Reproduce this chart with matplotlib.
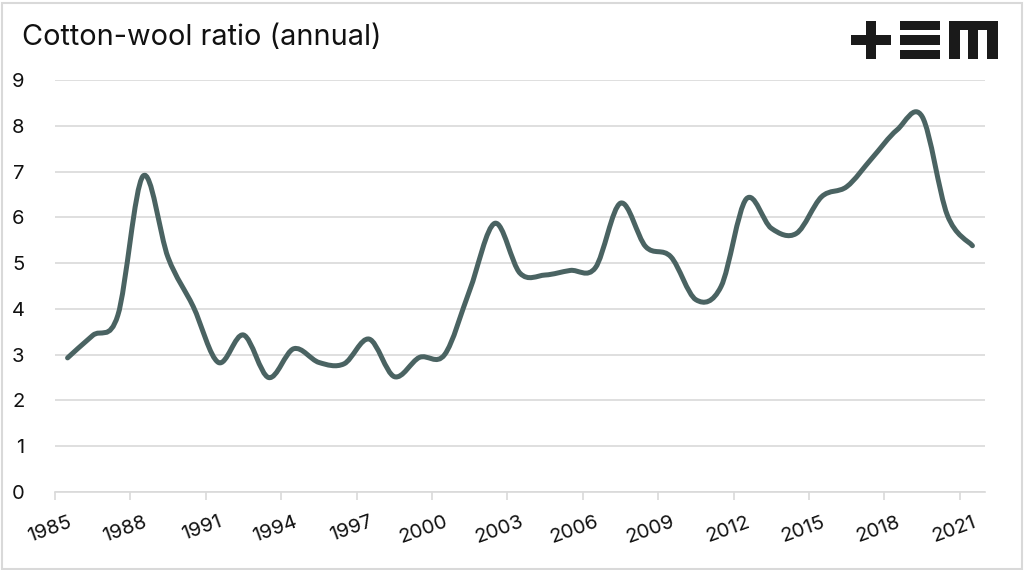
import matplotlib
matplotlib.use("Agg")
import matplotlib.pyplot as plt
from matplotlib.path import Path
from matplotlib.patches import PathPatch, Rectangle
import numpy as np

years = list(range(1985, 2022))
ratio = [2.93, 3.42, 3.86, 6.90, 5.12, 4.05, 2.83, 3.43, 2.50, 3.13, 2.83, 2.80,
         3.34, 2.52, 2.94, 3.00, 4.41, 5.87, 4.78, 4.74, 4.84, 4.90, 6.31, 5.36,
         5.14, 4.20, 4.49, 6.40, 5.76, 5.65, 6.45, 6.67, 7.29, 7.91, 8.20, 6.05, 5.38]
label_years = years[::3]

title = "Cotton-wool ratio (annual)"
line_color = "#4a6362"
grid_color = "#d9d9d9"
FONT = ["Inter", "DejaVu Sans"]
plt.rcParams['font.family'] = FONT

W, H = 1024, 570
fig = plt.figure(figsize=(W / 100, H / 100), dpi=100)
fig.patch.set_facecolor("white")

L, R, T, B = 55, 985, 80, 492
ax = fig.add_axes([L / W, 1 - B / H, (R - L) / W, (B - T) / H])
ax.set_facecolor("white")

n = len(years)
x = np.arange(n, dtype=float)
y = np.array(ratio, dtype=float)

# Excel-style smoothed line (Catmull-Rom as cubic Bezier)
verts = [(x[0], y[0])]
codes = [Path.MOVETO]
for i in range(n - 1):
    p0 = np.array([x[max(i - 1, 0)], y[max(i - 1, 0)]])
    p1 = np.array([x[i], y[i]])
    p2 = np.array([x[i + 1], y[i + 1]])
    p3 = np.array([x[min(i + 2, n - 1)], y[min(i + 2, n - 1)]])
    c1 = p1 + (p2 - p0) / 6.0
    c2 = p2 - (p3 - p1) / 6.0
    verts += [tuple(c1), tuple(c2), tuple(p2)]
    codes += [Path.CURVE4] * 3
patch = PathPatch(Path(verts, codes), facecolor="none", edgecolor=line_color,
                  lw=3.6, capstyle="round", joinstyle="round", zorder=3)
ax.add_patch(patch)

ax.set_xlim(-0.5, n - 0.5)
ax.set_ylim(0, 9)
ax.set_yticks(range(0, 10))
ax.set_yticklabels([str(v) for v in range(0, 10)], fontsize=14.5)
ax.yaxis.grid(True, color=grid_color, lw=1.2, zorder=0)
ax.tick_params(axis="y", length=0, pad=22, labelcolor="#111111")

# tick marks at category boundaries every 3 years; labels at category centers
ax.set_xticks(np.arange(-0.5, n, 3))
ax.set_xticklabels([])
ax.tick_params(axis="x", which="major", length=6, color=grid_color, width=1.2)
ax.set_xticks([years.index(v) for v in label_years], minor=True)
ax.set_xticklabels([str(v) for v in label_years], minor=True, fontsize=14.5,
                   rotation=20, ha="right", va="top", rotation_mode="anchor")
ax.tick_params(axis="x", which="minor", length=0, pad=15, labelcolor="#111111")

for s in ["top", "right", "left"]:
    ax.spines[s].set_visible(False)
ax.spines["bottom"].set_color(grid_color)
ax.spines["bottom"].set_linewidth(1.2)

fig.text(22 / W, 1 - 45 / H, title, fontsize=20.8, color="#111111",
         ha="left", va="baseline")

# logo (+EM) drawn as rectangles in pixel coordinates
def px_rect(x0, y0, x1, y1):
    fig.patches.append(Rectangle((x0 / W, 1 - y1 / H), (x1 - x0) / W, (y1 - y0) / H,
                                 transform=fig.transFigure, facecolor="#1a1a1a",
                                 edgecolor="none"))

px_rect(851, 35, 891, 45)
px_rect(866, 21, 876, 59)
px_rect(900, 21, 940, 30)
px_rect(900, 35.5, 940, 44.5)
px_rect(900, 50, 940, 59)
px_rect(949, 21, 998, 30)
px_rect(949, 21, 960, 59)
px_rect(968, 21, 978, 59)
px_rect(987, 21, 998, 59)

# outer light border
fig.patches.append(Rectangle((1.5 / W, 1.5 / H), (W - 4) / W, (H - 4) / H,
                             transform=fig.transFigure, facecolor="none",
                             edgecolor=grid_color, lw=1.5))

fig.savefig("out.png", dpi=100)
